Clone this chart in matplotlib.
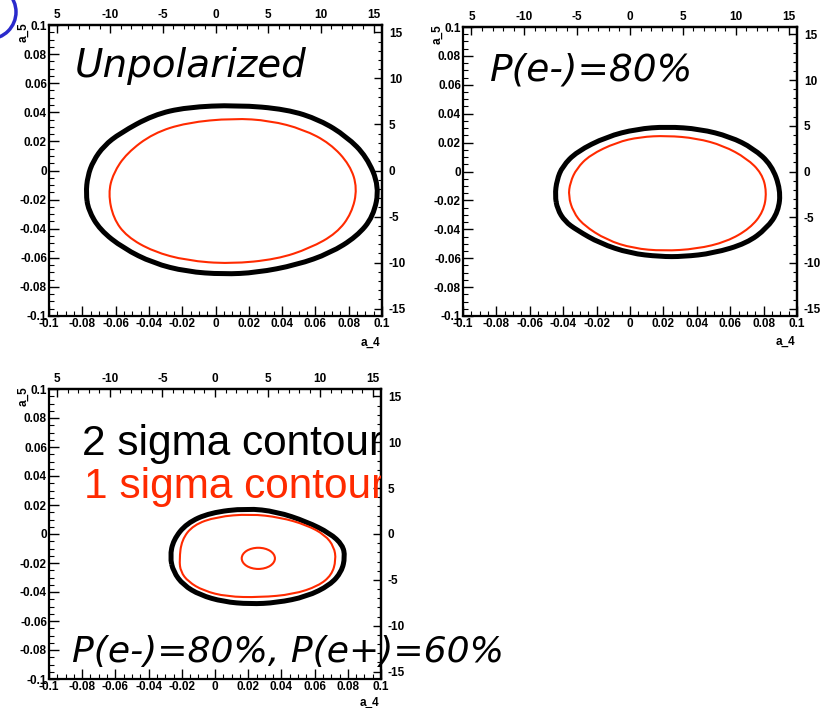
import numpy as np
import matplotlib.pyplot as plt
from matplotlib.patches import Ellipse, PathPatch
from matplotlib.path import Path
from matplotlib.ticker import FixedLocator, MultipleLocator

W, H = 825, 708

# contours in the (a_4, a_5) plane
unpol_2s_x = [-0.0778, -0.0768, -0.0735, -0.0670, -0.0574, -0.0374, -0.0173, 0.0127, 0.0428, 0.0628, 0.0788, 0.0908,
              0.0984, 0.0948, 0.0848, 0.0688, 0.0488, 0.0247, 0.0047, -0.0173, -0.0374, -0.0554, -0.0694, -0.0764]
unpol_2s_y = [-0.0157, -0.0040, 0.0065, 0.0170, 0.0256, 0.0382, 0.0435, 0.0450, 0.0421, 0.0347, 0.0233, 0.0095,
              -0.0111, -0.0317, -0.0454, -0.0568, -0.0649, -0.0702, -0.0713, -0.0695, -0.0637, -0.0534, -0.0408, -0.0271]
unpol_1s_x = [-0.0644, -0.0614, -0.0533, -0.0374, -0.0173, 0.0107, 0.0327, 0.0527, 0.0688, 0.0808,
              0.0852, 0.0818, 0.0728, 0.0568, 0.0368, 0.0087, -0.0173, -0.0374, -0.0533, -0.0614]
unpol_1s_y = [-0.0157, -0.0019, 0.0119, 0.0256, 0.0329, 0.0359, 0.0343, 0.0283, 0.0187, 0.0038,
              -0.0122, -0.0294, -0.0431, -0.0534, -0.0610, -0.0642, -0.0619, -0.0557, -0.0454, -0.0328]

em80_2s_x = [-0.0449, -0.0438, -0.0405, -0.0319, -0.0140, 0.0040, 0.0220, 0.0419, 0.0599, 0.0739, 0.0848, 0.0902,
             0.0888, 0.0819, 0.0699, 0.0499, 0.0319, 0.0180, 0.0000, -0.0180, -0.0319, -0.0390, -0.0435]
em80_2s_y = [-0.0165, -0.0060, 0.0035, 0.0137, 0.0241, 0.0294, 0.0310, 0.0294, 0.0241, 0.0160, 0.0045, -0.0128,
             -0.0278, -0.0393, -0.0497, -0.0566, -0.0589, -0.0589, -0.0566, -0.0497, -0.0405, -0.0345, -0.0260]
em80_1s_x = [-0.0369, -0.0358, -0.0320, -0.0240, -0.0080, 0.0060, 0.0220, 0.0399, 0.0559, 0.0699, 0.0789,
             0.0819, 0.0799, 0.0719, 0.0579, 0.0399, 0.0200, 0.0020, -0.0140, -0.0280, -0.0340]
em80_1s_y = [-0.0170, -0.0075, 0.0020, 0.0114, 0.0202, 0.0239, 0.0248, 0.0230, 0.0179, 0.0091, -0.0012,
             -0.0140, -0.0278, -0.0393, -0.0486, -0.0536, -0.0550, -0.0532, -0.0474, -0.0370, -0.0280]

both_2s_x = [-0.0271, -0.0251, -0.0171, -0.0030, 0.0191, 0.0372, 0.0552, 0.0693, 0.0769, 0.0783,
             0.0763, 0.0693, 0.0552, 0.0372, 0.0211, 0.0050, -0.0090, -0.0191, -0.0251]
both_2s_y = [-0.0157, -0.0041, 0.0074, 0.0147, 0.0177, 0.0154, 0.0085, 0.0005, -0.0076, -0.0157,
             -0.0260, -0.0352, -0.0432, -0.0474, -0.0483, -0.0467, -0.0421, -0.0352, -0.0260]
both_1s_x = [-0.0215, -0.0201, -0.0131, 0.0010, 0.0211, 0.0392, 0.0552, 0.0663, 0.0717,
             0.0729, 0.0703, 0.0622, 0.0472, 0.0271, 0.0070, -0.0070, -0.0161, -0.0207]
both_1s_y = [-0.0179, -0.0041, 0.0062, 0.0119, 0.0138, 0.0115, 0.0062, -0.0007, -0.0088,
             -0.0179, -0.0283, -0.0359, -0.0416, -0.0437, -0.0432, -0.0391, -0.0329, -0.0260]
# inner island of the 1 sigma region: centre and full widths
both_1s_island = (0.0261, -0.0168, 0.0200, 0.0146)

x_ticks = [-0.1, -0.08, -0.06, -0.04, -0.02, 0.0, 0.02, 0.04, 0.06, 0.08, 0.1]
x_ticklabels = ['-0.1', '-0.08', '-0.06', '-0.04', '-0.02', '0', '0.02', '0.04', '0.06', '0.08', '0.1']
y_ticks = x_ticks
y_ticklabels = x_ticklabels
sec_ticks = [-15, -10, -5, 0, 5, 10, 15]
top_ticklabels = ['5', '-10', '-5', '0', '5', '10', '15']
right_ticklabels = ['-15', '-10', '-5', '0', '5', '10', '15']
sec_scale = 158.0

RED = '#ff2a00'
TICKFONT = dict(family='Liberation Sans', weight='bold', size=8.5)

fig = plt.figure(figsize=(W / 100, H / 100), dpi=100)


def px_box(left, top, right, bottom):
    return [left / W, 1 - bottom / H, (right - left) / W, (bottom - top) / H]


def make_panel(box, xlabel_y=-0.07):
    ax = fig.add_axes(box)
    ax.set_xlim(-0.1, 0.1)
    ax.set_ylim(-0.1, 0.1)
    for s in ax.spines.values():
        s.set_linewidth(1.6)
    ax.xaxis.set_major_locator(FixedLocator(x_ticks))
    ax.yaxis.set_major_locator(FixedLocator(y_ticks))
    ax.set_xticklabels(x_ticklabels, fontdict=TICKFONT)
    ax.set_yticklabels(y_ticklabels, fontdict=TICKFONT)
    ax.xaxis.set_minor_locator(MultipleLocator(0.005))
    ax.yaxis.set_minor_locator(MultipleLocator(0.005))
    ax.tick_params(which='major', direction='in', length=7, width=1.0, pad=1.5)
    ax.tick_params(which='minor', direction='in', length=3.5, width=0.8)

    top = ax.secondary_xaxis('top', functions=(lambda v: v * sec_scale, lambda v: v / sec_scale))
    top.set_xticks(sec_ticks)
    top.set_xticklabels(top_ticklabels, fontdict=TICKFONT)
    top.xaxis.set_minor_locator(MultipleLocator(1))
    top.tick_params(which='major', direction='in', length=6, width=1.0, pad=3)
    top.tick_params(which='minor', direction='in', length=3, width=0.8)
    top.spines['top'].set_linewidth(1.6)

    right = ax.secondary_yaxis('right', functions=(lambda v: v * sec_scale, lambda v: v / sec_scale))
    right.set_yticks(sec_ticks)
    right.set_yticklabels(right_ticklabels, fontdict=TICKFONT)
    right.yaxis.set_minor_locator(MultipleLocator(1))
    right.tick_params(which='major', direction='in', length=6, width=1.0, pad=5)
    right.tick_params(which='minor', direction='in', length=3, width=0.8)
    right.spines['right'].set_linewidth(1.6)

    ax.set_xlabel('a_4', loc='right', fontdict=TICKFONT)
    ax.xaxis.set_label_coords(0.994, xlabel_y)
    ax.set_ylabel('a_5', loc='top', fontdict=TICKFONT)
    ax.yaxis.set_label_coords(-0.06, 1.01)
    return ax


def contour(ax, xs, ys, color, lw):
    # closed quadratic spline with the contour points as control points
    pts = np.column_stack([xs, ys])
    mids = (pts + np.roll(pts, -1, axis=0)) / 2
    verts = [mids[-1]]
    codes = [Path.MOVETO]
    for p, m in zip(pts, mids):
        verts += [p, m]
        codes += [Path.CURVE3, Path.CURVE3]
    ax.add_patch(PathPatch(Path(verts, codes), fill=False, edgecolor=color, lw=lw,
                           joinstyle='round', clip_on=False))


ax1 = make_panel(px_box(49, 25, 382, 316))
contour(ax1, unpol_2s_x, unpol_2s_y, 'black', 3.6)
contour(ax1, unpol_1s_x, unpol_1s_y, RED, 1.5)

ax2 = make_panel(px_box(463, 27, 797, 316))
contour(ax2, em80_2s_x, em80_2s_y, 'black', 3.6)
contour(ax2, em80_1s_x, em80_1s_y, RED, 1.5)

ax3 = make_panel(px_box(49, 389, 381, 679), xlabel_y=-0.06)
contour(ax3, both_2s_x, both_2s_y, 'black', 3.6)
contour(ax3, both_1s_x, both_1s_y, RED, 1.5)
cx, cy, w, h = both_1s_island
ax3.add_patch(Ellipse((cx, cy), w, h, fill=False, edgecolor=RED, lw=1.5))

# legend text, cut off at the frame
ax3.text((82 - 49) / 332, 1 - (455 - 389) / 290, '2 sigma contour', transform=ax3.transAxes,
         family='Liberation Sans', fontsize=30.5, color='black', clip_on=True)
ax3.text((84 - 49) / 332, 1 - (498 - 389) / 290, '1 sigma contour', transform=ax3.transAxes,
         family='Liberation Sans', fontsize=30.5, color=RED, clip_on=True)

# panel titles
title_font = dict(family='DejaVu Sans', style='oblique', color='black')
fig.text(75 / W, 1 - 77 / H, 'Unpolarized', fontsize=28, va='baseline', **title_font)
fig.text(490 / W, 1 - 81 / H, 'P(e-)=80%', fontsize=27, va='baseline', **title_font)
fig.text(72 / W, 1 - 662 / H, 'P(e-)=80%, P(e+)=60%', fontsize=26, va='baseline', **title_font)

# slide decoration in the corner
fig.add_artist(Ellipse((-11 / W, 1 - 12 / H), 54 / W, 54 / H, fill=False,
                       edgecolor='#2a2acc', lw=2.5, transform=fig.transFigure))

fig.savefig('out.png', dpi=100)
